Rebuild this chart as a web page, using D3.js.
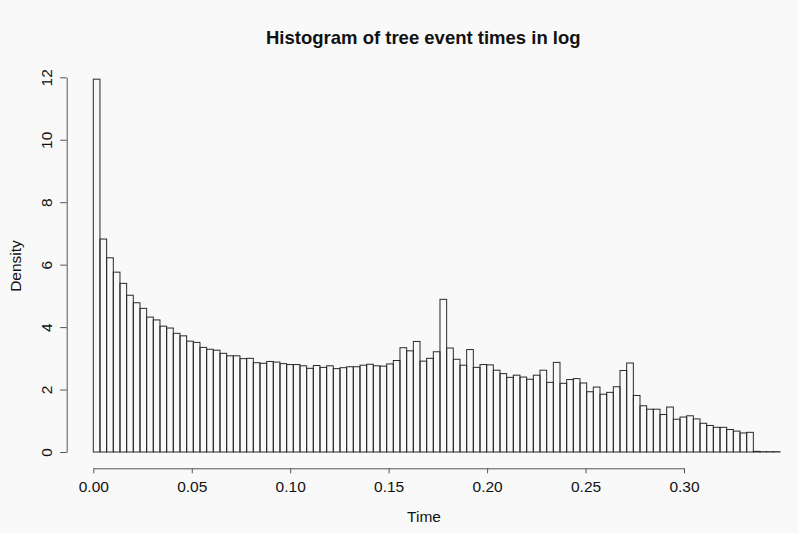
<!DOCTYPE html>
<html>
<head>
<meta charset="utf-8">
<script src="https://cdn.jsdelivr.net/npm/d3@7"></script>
<style>
  html, body { margin: 0; padding: 0; background: #f9f9f9; }
  svg { display: block; font-family: "Liberation Sans", Arial, Helvetica, sans-serif; }
</style>
</head>
<body>
<svg id="chart" width="798" height="533"></svg>
<script>
// Histogram densities, one per bin, left to right
const densities = [
  11.94, 6.82, 6.22, 5.76, 5.40, 5.02, 4.78, 4.60, 4.32, 4.23,
  4.03, 3.97, 3.80, 3.72, 3.55, 3.51, 3.35, 3.29, 3.26, 3.16,
  3.08, 3.08, 2.99, 3.00, 2.86, 2.84, 2.90, 2.88, 2.83, 2.80,
  2.80, 2.76, 2.68, 2.77, 2.71, 2.76, 2.67, 2.70, 2.73, 2.73,
  2.78, 2.81, 2.76, 2.75, 2.82, 2.93, 3.34, 3.24, 3.54, 2.91,
  3.00, 3.21, 4.89, 3.33, 2.97, 2.78, 3.28, 2.71, 2.80, 2.79,
  2.62, 2.51, 2.39, 2.46, 2.40, 2.33, 2.46, 2.62, 2.23, 2.87,
  2.20, 2.32, 2.35, 2.21, 1.93, 2.08, 1.85, 1.91, 2.09, 2.61,
  2.85, 1.81, 1.48, 1.37, 1.37, 1.20, 1.44, 1.05, 1.12, 1.16,
  1.06, 0.92, 0.85, 0.79, 0.79, 0.72, 0.67, 0.61, 0.63, 0.02,
  0.01, 0.01, 0.01
];
// Bin layout: first break and common bin width (time units)
const firstBreak = 0;
const binWidth = 0.003386;
// Axis ticks
const xTicks = [0.00, 0.05, 0.10, 0.15, 0.20, 0.25, 0.30];
const yTicks = [0, 2, 4, 6, 8, 10, 12];
const titleText = "Histogram of tree event times in log";
const xLabel = "Time";
const yLabel = "Density";

const bins = densities.map((d, i) => ({
  x0: firstBreak + i * binWidth,
  x1: firstBreak + (i + 1) * binWidth,
  density: d
}));

const svg = d3.select("#chart");
const x = d3.scaleLinear().domain([0, 0.30]).range([93.3, 684]);
const y = d3.scaleLinear().domain([0, 12]).range([452, 77.3]);

// Bars
svg.append("g")
  .selectAll("rect")
  .data(bins)
  .join("rect")
  .attr("x", d => x(d.x0))
  .attr("y", d => y(d.density))
  .attr("width", d => x(d.x1) - x(d.x0))
  .attr("height", d => y(0) - y(d.density))
  .attr("fill", "none")
  .attr("stroke", "#2a2a2a")
  .attr("stroke-width", 1);

// X axis
const xAxis = svg.append("g")
  .attr("transform", "translate(0,468.3)")
  .call(d3.axisBottom(x).tickValues(xTicks).tickFormat(d3.format(".2f"))
    .tickSize(5).tickSizeOuter(0).tickPadding(8));
xAxis.select(".domain").attr("stroke", "#555");
xAxis.selectAll(".tick line").attr("stroke", "#555");
xAxis.selectAll(".tick text")
  .attr("font-size", 15.5).attr("fill", "#111")
  .attr("font-family", "'Liberation Sans', Arial, sans-serif");

// Y axis with labels running bottom to top
const yAxis = svg.append("g")
  .attr("transform", "translate(66.7,0)")
  .call(d3.axisLeft(y).tickValues(yTicks).tickFormat(d3.format("d"))
    .tickSize(6.5).tickSizeOuter(0));
yAxis.select(".domain").attr("stroke", "#555");
yAxis.selectAll(".tick line").attr("stroke", "#555");
yAxis.selectAll(".tick text")
  .attr("transform", "rotate(-90)")
  .attr("x", 0).attr("y", -15).attr("dy", null)
  .attr("text-anchor", "middle")
  .attr("font-size", 15.5).attr("fill", "#111")
  .attr("font-family", "'Liberation Sans', Arial, sans-serif");

// Title and axis titles
svg.append("text")
  .attr("x", 423.3).attr("y", 43.5)
  .attr("text-anchor", "middle")
  .attr("font-weight", "bold").attr("font-size", 18.5).attr("fill", "#111")
  .text(titleText);

svg.append("text")
  .attr("x", 424).attr("y", 522)
  .attr("text-anchor", "middle")
  .attr("font-size", 15.5).attr("fill", "#111")
  .text(xLabel);

svg.append("text")
  .attr("transform", "translate(21,266) rotate(-90)")
  .attr("text-anchor", "middle")
  .attr("font-size", 15.5).attr("fill", "#111")
  .text(yLabel);
</script>
</body>
</html>
